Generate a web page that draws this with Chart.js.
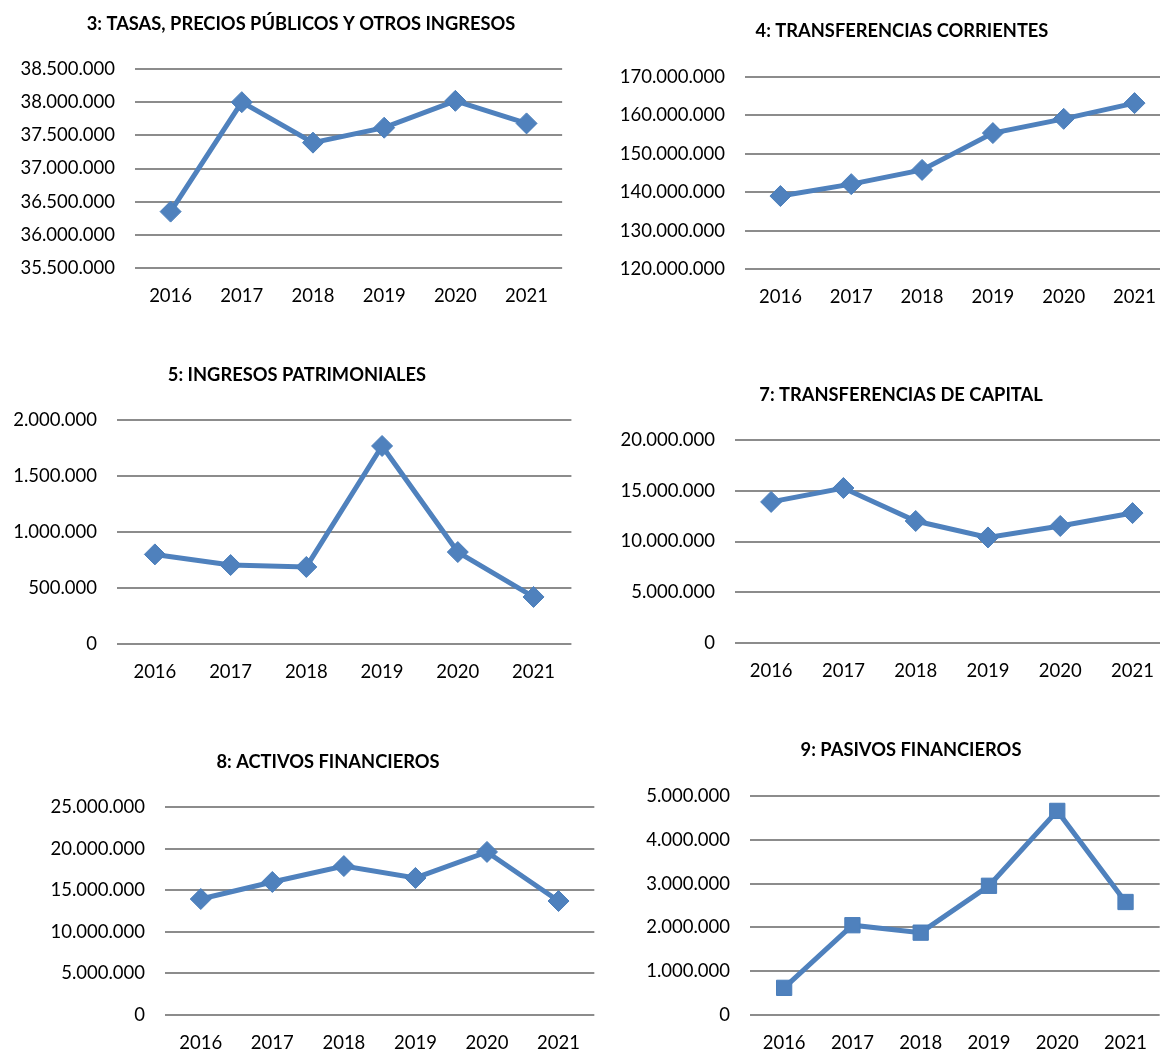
<!DOCTYPE html>
<html><head><meta charset="utf-8">
<script src="https://cdn.jsdelivr.net/npm/chart.js@4.4.1/dist/chart.umd.min.js"></script>
<style>
html,body{margin:0;padding:0;background:#fff;}
#page{position:relative;width:1160px;height:1051px;overflow:hidden;background:#fff;}
canvas{position:absolute;}
</style></head><body><div id="page">
<canvas id="c1"></canvas><canvas id="c2"></canvas>
<canvas id="c3"></canvas><canvas id="c4"></canvas>
<canvas id="c5"></canvas><canvas id="c6"></canvas>
</div>
<script>
// ---- data ----
const years = ['2016', '2017', '2018', '2019', '2020', '2021'];
const tasasValues = [36350000, 38000000, 37390000, 37615000, 38020000, 37680000];
const transfCorrientesValues = [139000000, 142100000, 145800000, 155400000, 159100000, 163200000];
const patrimonialesValues = [800000, 705000, 688000, 1768000, 821000, 420000];
const transfCapitalValues = [13900000, 15270000, 12020000, 10400000, 11530000, 12800000];
const activosValues = [13940000, 15990000, 17900000, 16470000, 19600000, 13700000];
const pasivosValues = [620000, 2050000, 1880000, 2950000, 4660000, 2580000];
const chartTitles = ['3: TASAS, PRECIOS PÚBLICOS Y OTROS INGRESOS', '4: TRANSFERENCIAS CORRIENTES',
  '5: INGRESOS PATRIMONIALES', '7: TRANSFERENCIAS DE CAPITAL', '8: ACTIVOS FINANCIEROS', '9: PASIVOS FINANCIEROS'];
const yMins = [35500000, 120000000, 0, 0, 0, 0];
const yMaxs = [38500000, 170000000, 2000000, 20000000, 25000000, 5000000];
const ySteps = [500000, 10000000, 500000, 5000000, 5000000, 1000000];
const markerStyles = ['rectRot', 'rectRot', 'rectRot', 'rectRot', 'rectRot', 'rect'];
const seriesList = [tasasValues, transfCorrientesValues, patrimonialesValues, transfCapitalValues, activosValues, pasivosValues];

// ---- layout (canvas box and target plot box, in page pixels) ----
const boxes = [
  {L:0,   T:0,   H:320, plotL:135, plotR:565,  plotT:69,  plotB:268, tx:301, ty:24},
  {L:600, T:0,   H:320, plotL:745, plotR:1173, plotT:77,  plotB:269, tx:902, ty:31},
  {L:0,   T:340, H:360, plotL:117, plotR:572,  plotT:420, plotB:644, tx:297, ty:375},
  {L:600, T:340, H:360, plotL:735, plotR:1171, plotT:440, plotB:643, tx:901, ty:395},
  {L:0,   T:720, H:331, plotL:165, plotR:597,  plotT:807, plotB:1015, tx:328, ty:762},
  {L:600, T:720, H:331, plotL:750, plotR:1164, plotT:796, plotB:1015, tx:911, ty:750}
];

const FONT = "Lato, 'Open Sans', sans-serif";
const TITLE_SIZE = 18.3;
const TICK_SIZE = 18.5;

function fmt(v){ return String(Math.round(v)).replace(/\B(?=(\d{3})+(?!\d))/g, '.'); }

const fixedTitle = {
  id: 'fixedTitle',
  afterDraw(chart, args, opts) {
    const ctx = chart.ctx;
    ctx.save();
    ctx.font = 'bold ' + TITLE_SIZE + 'px ' + FONT;
    ctx.fillStyle = '#000';
    ctx.textAlign = 'center';
    ctx.textBaseline = 'middle';
    ctx.fillText(opts.text, opts.x, opts.y);
    ctx.restore();
  }
};

boxes.forEach((b, i) => {
  const cv = document.getElementById('c' + (i+1));
  const W = b.plotR - b.L;
  cv.width = W; cv.height = b.H;
  cv.style.left = b.L + 'px'; cv.style.top = b.T + 'px';
  cv.style.width = W + 'px'; cv.style.height = b.H + 'px';
  const yWidth = b.plotL - b.L;
  const xHeight = b.T + b.H - b.plotB;
  const isSquare = markerStyles[i] === 'rect';
  new Chart(cv, {
    type: 'line',
    plugins: [fixedTitle],
    data: { labels: years, datasets: [{
      data: seriesList[i],
      borderColor: '#4F81BD', backgroundColor: '#4F81BD',
      borderWidth: 5, tension: 0, clip: false,
      pointStyle: markerStyles[i], pointRadius: isSquare ? 10.8 : 10.5,
      pointBackgroundColor: '#4F81BD', pointBorderColor: '#4A7EBB', pointBorderWidth: 1
    }]},
    options: {
      responsive: false, animation: false, devicePixelRatio: 1,
      layout: { autoPadding: false, padding: { left: 0, right: 0, top: b.plotT - b.T, bottom: 0 } },
      plugins: {
        legend: { display: false }, tooltip: { enabled: false }, title: { display: false },
        fixedTitle: { text: chartTitles[i], x: b.tx - b.L, y: b.ty - b.T }
      },
      scales: {
        x: { offset: true,
          grid: { display: false, drawTicks: false }, border: { display: false },
          ticks: { color: '#000', padding: 17, font: { family: FONT, size: TICK_SIZE } },
          afterFit: s => { s.height = xHeight; } },
        y: { min: yMins[i], max: yMaxs[i],
          grid: { color: '#8c8c8c', lineWidth: 2, drawTicks: false }, border: { display: false },
          ticks: { stepSize: ySteps[i], color: '#000', padding: 20,
            font: { family: FONT, size: TICK_SIZE }, callback: v => fmt(v) },
          afterFit: s => { s.width = yWidth; } }
      }
    }
  });
});
</script></body></html>
